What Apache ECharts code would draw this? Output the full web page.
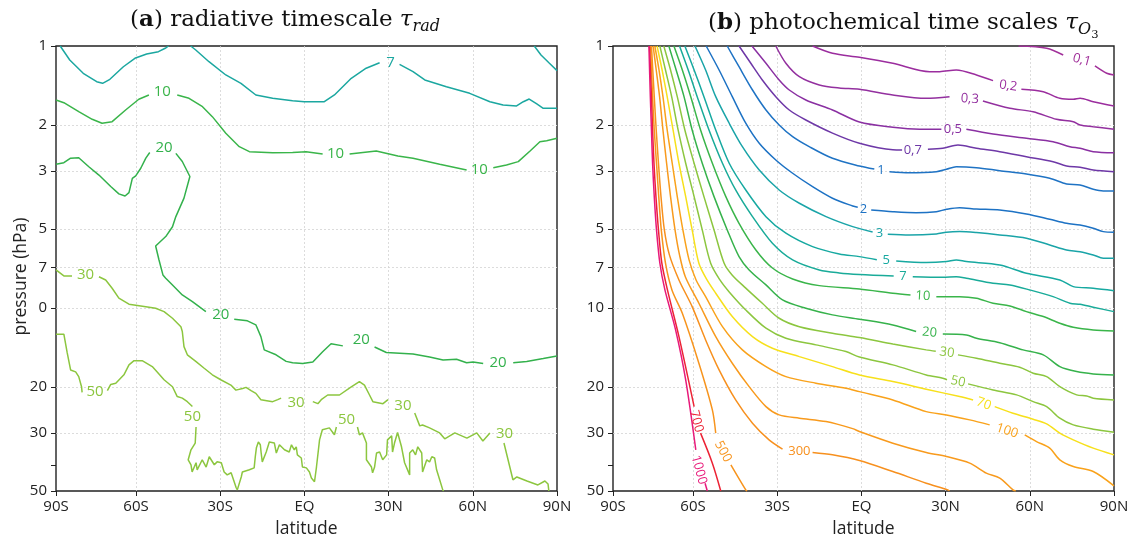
<!DOCTYPE html>
<html><head><meta charset="utf-8">
<script src="https://cdn.jsdelivr.net/npm/echarts@6/dist/echarts.min.js"></script>
<style>html,body{margin:0;padding:0;background:#fff}#c{width:1132px;height:539px}</style>
</head><body><div id="c"></div>
<script>
// ---------- axes ----------
const latTicks = [-88.5, -60, -30, 0, 30, 60, 90];
const latLabels = ['90S', '60S', '30S', 'EQ', '30N', '60N', '90N'];
const latGrid = [-60, -30, 0, 30, 60];
const pTicks = [1, 2, 3, 5, 7, 10, 20, 30, 50];
const pLabelsA = ['1', '2', '3', '5', '7', '0', '20', '30', '50'];
const pLabelsB = ['1', '2', '3', '5', '7', '10', '20', '30', '50'];
const pGrid = [2, 3, 5, 7, 10, 20, 30];
const pExtraTick = [40];
const pMin = 1, pMax = 50, latMin = -88.5, latMax = 90;

// ---------- panel (a): radiative timescale, contours [lat, hPa], null = label gap ----------
const a7 = [[-87,1.0],[-83.6,1.131],[-78.8,1.271],[-74.0,1.369],[-71.9,1.388],[-69.3,1.34],[-64.5,1.2],[-60.4,1.114],[-56.2,1.073],[-52.0,1.051],[-49.6,1.02],[-48.4,1.0],null,
 [-40.5,1.0],[-38.7,1.036],[-34.0,1.148],[-28.0,1.29],[-22.6,1.388],[-17.3,1.538],[-11.3,1.584],[-4.2,1.618],[0,1.632],[7.1,1.632],[10.7,1.538],[16.7,1.328],[22.0,1.216],[26.8,1.158],null,
 [33.9,1.175],[38.7,1.253],[42.9,1.348],[50.6,1.43],[58.9,1.516],[66.1,1.632],[70.8,1.68],[75.6,1.694],[78.0,1.632],[80.1,1.594],[82.8,1.665],[85.1,1.729],[90,1.729],null,
 [81.9,1.0],[84.3,1.082],[87.3,1.164],[90,1.242]];
const a10 = [[-88.5,1.607],[-85.7,1.646],[-80.4,1.782],[-75.6,1.905],[-72.1,1.972],[-68.5,1.945],[-63.7,1.755],[-59.0,1.597],[-55.4,1.538],null,
 [-45.3,1.538],[-41.1,1.584],[-36.3,1.705],[-32.8,1.861],[-28.0,2.154],[-23.2,2.423],[-19.6,2.532],[-11.3,2.555],[-4.2,2.548],[0.6,2.532],[6.5,2.584],null,
 [16.1,2.584],[25.6,2.516],[33.3,2.63],[38.7,2.684],[48.2,2.828],[57.8,2.974],null,
 [67.3,2.914],[72.0,2.845],[76.2,2.764],[80.4,2.516],[83.9,2.319],[86.3,2.298],[90,2.25]];
const a20 = [[-88.5,2.83],[-85.7,2.79],[-83.3,2.68],[-80.4,2.67],[-76.8,2.89],[-73.2,3.11],[-69.0,3.44],[-66.1,3.67],[-63.9,3.74],[-62.5,3.63],[-61.3,3.2],[-60.1,3.13],[-58.3,2.93],[-56.5,2.68],[-55.1,2.55],null,
 [-45.8,2.57],[-43.5,2.76],[-40.8,3.15],[-42.9,3.81],[-45.8,4.48],[-47.0,4.9],[-49.4,5.34],[-53.0,5.8],[-51.8,6.56],[-50.4,7.48],[-49.4,7.7],[-47.0,8.17],[-43.5,8.92],[-39.9,9.46],[-35.1,10.33],null,
 [-25.0,11.04],[-20.3,11.2],[-17.3,11.6],[-15.5,12.87],[-14.3,14.46],[-10.1,15.1],[-6.5,16.0],[-4.2,16.2],[-0.6,16.3],[3.0,16.1],[6.5,14.7],[9.5,13.7],[13.7,13.96],null,
 [25.0,14.1],[29.2,14.8],[38.7,15.0],[44.6,15.4],[49.4,15.8],[54.2,15.7],[57.8,16.2],[60.1,16.1],[63.7,16.3],null,
 [74.4,16.2],[79.2,16.0],[85.1,15.6],[90,15.25]];
const a30 = [[-88.5,7.16],[-85.7,7.55],[-82.8,7.55],null,
 [-73.2,7.6],[-70.8,7.82],[-68.5,8.41],[-66.1,9.18],[-62.5,9.68],[-56.5,9.89],[-53.0,10.03],[-50.0,10.33],[-47.0,10.95],[-44.0,11.8],[-43.5,12.3],[-42.9,14.05],[-41.7,15.1],[-38.7,16.0],[-35.7,17.0],[-32.8,18.0],[-29.8,18.8],[-26.2,19.7],[-24.4,20.6],[-22.0,20.3],[-20.8,20.1],[-19.0,20.7],[-17.3,21.2],[-15.5,22.4],[-11.3,22.8],[-9.5,22.4],[-8.3,22.1],null,
 [3.0,22.8],[4.8,23.2],[6.0,22.4],[8.3,21.5],[12.5,21.5],[16.7,20.0],[19.6,19.1],[21.4,19.7],[23.2,21.5],[24.4,22.8],[28.0,23.2],[29.8,22.4],null,
 [39.3,25.2],[41.1,28.2],[42.1,28.0],[44.6,28.7],[48.2,30.0],[50.0,31.6],[53.6,30.0],[57.9,31.4],[61.4,30.0],[63.6,32.2],[66.1,30.0],null,
 [71.1,32.8],[74.3,45.3],[75.7,44.2],[79.3,45.8],[83.2,47.4],[85.7,45.8],[86.8,47],[87.1,50]];
const a50 = [[-88.5,12.6],[-85.7,12.6],[-84.5,14.85],[-83.3,17.25],[-81.5,17.55],[-80.4,18.3],[-79.4,20.0],[-79.2,21.0],null,
 [-70.2,20.7],[-69.0,19.6],[-67.2,19.4],[-64.3,18.0],[-62.5,16.5],[-60.7,15.9],[-57.8,15.9],[-54.2,16.75],[-50.0,18.8],[-47.0,20.0],[-45.3,21.8],[-43.5,22.1],[-41.7,22.8],[-39.9,23.8],null,
 [-38.6,28.5],[-38.9,32.8],[-40.4,34.8],[-41.4,38.0],[-40.4,39.7],[-40.0,42.3],[-38.6,39.0],[-38.2,41.5],[-36.4,38.0],[-35.0,40.5],[-33.9,37.0],[-33.2,36.4],[-32.1,39.7],[-31.1,38.7],[-29.6,39.0],[-28.6,42.3],[-27.5,43.4],[-26.1,42.6],[-24.3,48.6],[-23.9,49.5],[-22.5,44.2],[-22.1,42.3],[-19.6,41.5],[-17.9,40.8],[-17.5,37.0],[-17.1,34.2],[-16.4,32.5],[-15.7,33.3],[-15.4,35.8],[-15.0,38.7],[-13.6,35.5],[-12.5,32.5],[-10.7,32.8],[-10.0,35.8],[-8.9,33.3],[-7.1,34.8],[-5.4,35.5],[-4.6,33.3],[-3.6,34.8],[-2.9,33.9],[-2.5,36.4],[-1.1,37.4],[-0.7,40.5],[0.7,40.8],[1.8,42.3],[2.5,44.6],[3.6,46.1],[4.3,40.5],[5.4,31.9],[6.4,29.2],[8.9,28.7],[10.7,30.5],[11.4,28.5],null,
 [18.9,28.5],[19.6,30.5],[20.7,30.0],[22.1,32.8],[22.1,38.0],[23.9,40.5],[24.3,42.6],[25.0,40.5],[25.7,35.8],[26.8,35.5],[27.9,38.0],[29.3,36.4],[29.6,31.9],[31.1,30.8],[31.4,35.5],[32.1,32.8],[33.2,29.9],[34.6,33.9],[35.7,39.0],[37.5,43.4],[37.5,35.8],[38.6,34.8],[39.6,36.4],[40.4,33.9],[41.8,35.8],[42.1,42.3],[43.6,38.0],[44.6,38.7],[45.4,37.0],[46.4,37.4],[47.1,41.5],[48.2,45.3],[49.3,49.5],[49.6,50]];
const levelsA = [7, 10, 20, 30, 50];
const colorsA = ['#1ba7a0', '#3ab54a', '#33b14c', '#8cc63f', '#8cc63f'];
const linesA = [a7, a10, a20, a30, a50];
// labels: [text, lat, hPa, level]
const labelsA = [['7',30.7,1.158,7],['10',-50.6,1.494,10],['10',11.1,2.584,10],['10',62.3,2.974,10],
 ['20',-50.0,2.44,20],['20',-29.8,10.6,20],['20',20.3,13.25,20],['20',69.0,16.2,20],
 ['30',-78.0,7.5,30],['30',-3.0,23.1,30],['30',35.1,23.6,30],['30',71.3,30.3,30],
 ['50',-74.6,20.9,50],['50',-39.9,26.0,50],['50',15.0,26.7,50]];

// ---------- panel (b): photochemical time scales ----------
const b01 = [[56,1.0],[66.0,1.02],[71.9,1.082],null,[83.2,1.192],[87.4,1.271],[90,1.29]];
const b02 = [[-17.4,1.0],[-10.3,1.066],[-0.7,1.104],[11.2,1.164],[24.3,1.253],[27.9,1.253],[33.8,1.235],[41.0,1.29],[46.9,1.356],null,[57.0,1.463],[64.8,1.494],[70.7,1.584],[75.5,1.598],[77.9,1.584],[82.6,1.632],[90,1.694]];
const b03 = [[-30.5,1.0],[-26.9,1.164],[-22.1,1.31],[-15.0,1.409],[-7.9,1.447],[-0.7,1.463],[11.2,1.538],[23.1,1.584],[31.4,1.561],null,[43.3,1.621],[52.9,1.729],[61.2,1.782],[69.5,1.905],[75.5,1.945],[77.9,2.002],[82.6,2.032],[90,2.079]];
const b05 = [[-39.0,1.0],[-34.0,1.164],[-29.3,1.348],[-25.7,1.472],[-19.8,1.607],[-10.3,1.755],[-0.7,1.95],[11.2,2.043],[20.7,2.079],[28.5,2.079],null,[37.4,2.079],[46.9,2.167],[58.8,2.25],[68.3,2.319],[74.3,2.423],[77.9,2.457],[82.6,2.532],[90,2.555]];
const b07 = [[-43.6,1.0],[-39.4,1.164],[-35.3,1.348],[-30.5,1.561],[-25.7,1.755],[-19.8,1.916],[-10.3,2.15],[-0.7,2.35],[11.2,2.49],[14.5,2.494],null,[23.7,2.479],[29.0,2.457],[34.4,2.387],[41.0,2.457],[49.3,2.532],[58.8,2.646],[68.3,2.764],[73.1,2.871],[77.9,2.904],[82.6,2.974],[90,3.018]];
const b1 = [[-47.8,1.0],[-43.6,1.2],[-38.8,1.472],[-34.0,1.755],[-29.3,2.002],[-24.5,2.219],[-18.6,2.423],[-10.3,2.684],[-0.7,2.871],[4.6,2.95],null,[10.0,3.018],[17.1,3.045],[26.7,3.018],[30.3,2.955],[33.8,2.889],[41.0,2.914],[49.3,2.992],[58.8,3.08],[67.1,3.199],[73.1,3.363],[77.9,3.393],[82.6,3.524],[86.2,3.577],[90,3.577]];
const b2 = [[-55.3,1.0],[-50.7,1.235],[-46.0,1.561],[-41.2,1.972],[-36.4,2.352],[-30.5,2.724],[-24.5,3.061],[-17.4,3.444],[-10.3,3.813],[-3.1,4.081],[-1.3,4.13],null,[3.5,4.227],[11.2,4.29],[19.5,4.328],[26.7,4.29],[30.3,4.202],[35.0,4.143],[41.0,4.191],[49.3,4.227],[58.8,4.377],[67.1,4.586],[73.1,4.751],[77.9,4.823],[82.6,4.963],[86.2,5.113],[90,5.14]];
const b3 = [[-59.3,1.0],[-55.5,1.235],[-51.9,1.561],[-47.1,1.972],[-42.4,2.423],[-36.4,2.974],[-29.3,3.546],[-22.1,3.985],[-12.6,4.482],[-3.1,4.895],[4.0,5.13],null,[9.4,5.232],[17.1,5.264],[26.7,5.218],[30.3,5.14],[35.0,5.113],[41.0,5.158],[49.3,5.264],[58.8,5.42],[67.1,5.749],[73.1,6.006],[77.9,6.097],[82.6,6.275],[86.2,6.46],[90,6.46]];
const b5 = [[-62.9,1.0],[-59.6,1.235],[-56.1,1.561],[-51.9,2.092],[-47.1,2.803],[-41.2,3.546],[-34.0,4.482],[-26.9,5.186],[-17.4,5.834],[-7.9,6.22],[-0.7,6.37],[5.5,6.55],null,[12.4,6.615],[23.1,6.715],[30.3,6.656],[33.8,6.557],[37.4,6.656],[49.3,6.855],[58.8,7.372],[70.7,7.819],[75.5,8.293],[82.6,8.41],[90,8.59]];
const b7 = [[-64.8,1.0],[-61.7,1.235],[-58.5,1.561],[-54.3,2.092],[-49.5,2.803],[-44.8,3.546],[-38.8,4.482],[-31.7,5.664],[-24.5,6.557],[-15.0,7.161],[-7.9,7.35],[-0.7,7.45],[11.5,7.55],null,[18.3,7.595],[29.0,7.635],[33.8,7.595],[37.4,7.702],[46.9,8.049],[52.9,8.17],[60.0,8.537],[68.3,9.056],[74.3,9.596],[77.9,9.681],[82.6,9.938],[90,10.33]];
const b10 = [[-66.8,1.0],[-63.8,1.235],[-60.8,1.561],[-57.3,2.092],[-53.1,2.803],[-48.3,3.759],[-43.6,4.751],[-37.6,6.006],[-31.7,7.04],[-24.5,7.75],[-15.0,8.22],[-0.7,8.463],[11.2,8.788],[17.5,8.93],null,[26.7,9.056],[35.0,9.056],[41.0,9.184],[46.9,9.596],[52.9,9.826],[58.8,10.33],[64.8,10.79],[70.7,11.44],[75.5,11.85],[82.6,12.13],[90,12.24]];
const b20 = [[-68.6,1.0],[-66.0,1.235],[-63.2,1.561],[-60.3,2.092],[-56.7,2.803],[-52.5,3.759],[-47.8,5.037],[-43.6,6.37],[-40.0,7.161],[-34.0,8.17],[-28.1,9.322],[-19.8,10.03],[-10.3,10.63],[-0.7,11.04],[11.2,11.61],[19.5,12.31],null,[29.0,12.57],[37.4,12.68],[41.0,13.05],[49.3,13.57],[57.6,14.46],[64.8,15.11],[70.7,16.75],[76.7,17.5],[82.6,17.86],[90,18.02]];
const b30 = [[-70.4,1.0],[-68.0,1.235],[-65.6,1.561],[-62.9,2.092],[-59.6,2.803],[-56.1,3.759],[-52.5,5.037],[-48.9,6.751],[-46.0,7.5],[-41.2,8.4],[-35.3,9.596],[-29.3,10.95],[-22.1,11.79],[-10.3,12.49],[-0.7,12.98],[11.2,13.72],[23.1,14.46],[26.5,14.65],null,[34.4,15.11],[41.0,15.56],[49.3,16.26],[56.4,16.84],[61.2,17.75],[66.0,18.29],[70.7,19.97],[76.7,21.48],[80.3,21.67],[82.6,22.12],[90,22.45]];
const b50 = [[-71.8,1.0],[-69.8,1.235],[-67.6,1.561],[-65.3,2.092],[-62.6,2.803],[-59.6,3.759],[-56.7,5.037],[-53.7,6.751],[-50.4,7.82],[-47.1,8.69],[-41.2,10.18],[-34.0,11.95],[-26.9,13.05],[-16.2,13.84],[-5.5,14.68],[-0.7,15.4],[11.2,16.5],[23.1,18.02],[29.0,18.55],[30.5,18.8],null,[38.0,19.5],[46.9,20.56],[55.3,21.48],[61.2,22.79],[66.0,23.81],[70.7,26.36],[75.5,27.96],[82.6,29.04],[90,29.81]];
const b70 = [[-72.8,1.0],[-71.0,1.235],[-69.2,1.561],[-67.1,2.092],[-65.0,2.803],[-62.6,3.759],[-60.3,5.037],[-57.9,6.751],[-55.0,7.82],[-51.9,8.788],[-46.0,10.79],[-38.8,12.87],[-31.7,14.25],[-22.1,15.34],[-10.3,16.75],[-0.7,18.02],[11.2,19.11],[23.1,20.43],[35.0,21.8],[39.8,22.45],null,[47.5,23.81],[54.0,25.23],[61.2,26.6],[66.0,27.71],[70.7,30.07],[75.5,31.9],[82.6,34.31],[90,36.39]];
const b100 = [[-73.6,1.0],[-72.1,1.235],[-70.7,1.561],[-69.2,2.092],[-67.4,2.803],[-65.6,3.759],[-63.6,5.037],[-61.4,6.557],[-58.9,7.819],[-55.5,9.056],[-49.5,11.79],[-42.4,14.46],[-34.0,16.75],[-26.9,18.29],[-16.2,19.38],[-5.5,20.25],[-0.7,20.87],[11.2,22.45],[23.1,24.88],[30.3,25.61],[38.6,26.76],[45.7,27.96],null,[58.2,30.52],[62.4,32.38],[67.1,34.31],[70.7,38.03],[75.5,40.33],[82.6,42.14],[90,47.8]];
const b200 = [[-74.2,1.0],[-73.1,1.235],[-71.9,1.561],[-70.7,2.092],[-69.4,2.803],[-68.0,3.759],[-66.4,5.037],[-64.8,6.275],[-62.7,7.616],[-57.9,9.596],[-51.9,12.87],[-46.0,16.26],[-40.0,19.97],[-34.0,23.81],[-29.3,25.61],[-22.1,26.36],[-12.6,27.16],[-3.1,28.9],[-0.7,29.65],[11.2,32.85],[23.1,35.66],[30.3,36.94],[38.6,39.14],[44.5,42.75],[49.3,44.67],[54.0,49.5],[55.0,50]];
const b300 = [[-74.8,1.0],[-73.8,1.561],[-73.1,2.092],[-72.3,2.803],[-71.4,3.759],[-70.2,5.037],[-68.4,6.275],[-65.0,7.819],[-60.3,9.886],[-55.5,13.25],[-50.7,17.24],[-44.8,22.45],[-38.8,27.55],[-32.9,31.9],[-28.1,34.61],null,[-17.4,35.66],[-10.3,36.39],[-0.7,38.26],[11.2,42.14],[23.1,46.68],[30.8,49.5],[31.4,50]];
const b500 = [[-75.1,1.0],[-74.4,1.561],[-73.8,2.092],[-73.0,2.803],[-72.2,3.759],[-71.3,5.037],[-69.8,6.751],[-67.5,8.537],[-63.8,10.48],[-57.9,16.26],[-53.1,24.51],[-51.9,30.07],null,[-46.5,39.73],[-41.2,49.5],[-40.7,50]];
const b700 = [[-75.5,1.0],[-74.8,1.561],[-74.4,2.092],[-73.9,2.803],[-73.2,3.759],[-72.3,5.037],[-71.1,6.751],[-69.1,8.537],[-65.0,12.87],[-59.6,23.81],null,[-57.3,30.07],[-53.1,39.14],[-50.1,50]];
const b1000 = [[-75.7,1.0],[-75.2,1.561],[-74.8,2.092],[-74.4,2.803],[-73.8,3.759],[-73.0,5.037],[-71.8,6.751],[-70.0,8.537],[-66.2,12.13],[-62.6,18.83],[-59.0,34.83],null,[-55.7,46.68],[-54.9,50]];
const levelsB = [0.1, 0.2, 0.3, 0.5, 0.7, 1, 2, 3, 5, 7, 10, 20, 30, 50, 70, 100, 200, 300, 500, 700, 1000];
const colorsB = ['#a1309a', '#9b2d9e', '#93309f', '#8a30a2', '#6e38a7', '#1f73c4', '#1d72c4', '#1aa4a8', '#17a9a1', '#19ab99',
                 '#3ab54a', '#36b24b', '#8cc63f', '#8cc63f', '#f7e01b', '#f9a21b', '#f89a1d', '#f7901e', '#f7941d', '#ec2335', '#e8197a'];
const linesB = [b01, b02, b03, b05, b07, b1, b2, b3, b5, b7, b10, b20, b30, b50, b70, b100, b200, b300, b500, b700, b1000];
// labels: [text, lat, hPa, level, rotate]
const labelsB = [['0,1',78.5,1.131,0.1,-15],['0,2',52.3,1.418,0.2,-8],['0,3',38.6,1.594,0.3,-4],['0,5',32.6,2.074,0.5,0],
 ['0,7',18.3,2.494,0.7,0],['1',7.0,2.974,1,0],['2',0.7,4.191,2,0],['3',6.4,5.186,3,0],['5',8.8,6.598,5,0],['7',14.8,7.549,7,0],
 ['10',21.9,9.0,10,-3],['20',24.3,12.42,20,-5],['30',30.5,14.81,30,-8],['50',34.4,19.11,50,-12],['70',43.6,23.25,70,-20],
 ['100',51.9,29.48,100,-18],['300',-22.1,35.35,300,0],['500',-49.3,35.35,500,-62],['700',-58.8,27.1,700,-75],['1000',-57.9,41.5,1000,-75]];

// ---------- build ----------
const L = Math.log10;
function segments(arr) {
  const out = []; let cur = [];
  arr.forEach(pt => { if (pt === null) { if (cur.length) out.push(cur); cur = []; } else cur.push([pt[0], L(pt[1])]); });
  if (cur.length) out.push(cur);
  return out;
}
const series = [];
function addLines(lines, colors, gi, smooth) {
  lines.forEach((arr, i) => {
    segments(arr).forEach(seg => series.push({
      type: 'line', xAxisIndex: gi * 2, yAxisIndex: gi * 3, data: seg, symbol: 'none', showSymbol: false,
      smooth: smooth, lineStyle: { color: colors[i], width: 1.5 }, silent: true, z: 3
    }));
  });
}
addLines(linesA, colorsA, 0, false);
addLines(linesB, colorsB, 1, 0.3);
function addLabels(labels, levels, colors, gi, fs) {
  series.push({
    type: 'scatter', xAxisIndex: gi * 2, yAxisIndex: gi * 3, symbol: 'circle', symbolSize: 1,
    itemStyle: { color: 'rgba(255,255,255,0)' }, silent: true, z: 4,
    data: labels.map(l => ({
      value: [l[1], L(l[2])],
      label: { show: true, position: 'inside', formatter: l[0], color: colors[levels.indexOf(l[3])], rotate: l[4] || 0,
               fontSize: fs, fontFamily: 'Open Sans', opacity: 1 }
    }))
  });
}
addLabels(labelsA, levelsA, colorsA, 0, 15);
addLabels(labelsB, levelsB, colorsB, 1, 13);

const gridStyle = { show: true, borderColor: '#222', borderWidth: 1.4, top: 46, height: 445, width: 501, outerBoundsMode: 'none', containLabel: false };
const txt = { fontFamily: 'Open Sans', fontSize: 15, color: '#222' };
const nameTxt = { fontFamily: 'Open Sans', fontSize: 17.5, color: '#222' };
const gridLine = { show: true, lineStyle: { color: '#d4d4d4', type: [2, 2], width: 0.8 } };
function xAxis(gi) {
  return {
    gridIndex: gi, type: 'value', min: latMin, max: latMax, position: 'bottom',
    axisLine: { show: false, onZero: false },
    axisTick: { show: true, customValues: latTicks, length: 5, lineStyle: { color: '#222', width: 1 } },
    axisLabel: Object.assign({ customValues: latTicks, margin: 8,
      formatter: v => { const i = latTicks.findIndex(t => Math.abs(t - v) < 1e-6); return i >= 0 ? latLabels[i] : ''; } }, txt),
    splitLine: { show: false },
    name: 'latitude', nameLocation: 'middle', nameGap: 29, nameTextStyle: nameTxt, nameMoveOverlap: false
  };
}
function xAxisGrid(gi) {
  return {
    gridIndex: gi, type: 'value', min: latMin, max: latMax, position: 'bottom',
    axisLine: { show: false, onZero: false },
    axisTick: { show: false, customValues: latGrid }, axisLabel: { show: false }, splitLine: gridLine
  };
}
function yAxis(gi, labels, showName) {
  const vals = pTicks.map(L);
  return {
    gridIndex: gi, type: 'value', inverse: true, min: L(pMin), max: L(pMax), position: 'left',
    axisLine: { show: false, onZero: false },
    axisTick: { show: true, customValues: vals, length: 5, lineStyle: { color: '#222', width: 1 } },
    axisLabel: Object.assign({ customValues: vals, margin: 9,
      formatter: v => { const i = vals.findIndex(t => Math.abs(t - v) < 1e-6); return i >= 0 ? labels[i] : ''; } }, txt),
    splitLine: { show: false },
    name: showName ? 'pressure (hPa)' : '', nameLocation: 'middle', nameGap: 26,
    nameTextStyle: Object.assign({ padding: [0, 16, 0, 0] }, nameTxt), nameMoveOverlap: false
  };
}
function yAxisExtra(gi) {
  return {
    gridIndex: gi, type: 'value', inverse: true, min: L(pMin), max: L(pMax), position: 'left',
    axisLine: { show: false, onZero: false },
    axisTick: { show: true, customValues: pExtraTick.map(L), length: 5, lineStyle: { color: '#222', width: 1 } },
    axisLabel: { show: false }, splitLine: { show: false }
  };
}
function yAxisGrid(gi) {
  return {
    gridIndex: gi, type: 'value', inverse: true, min: L(pMin), max: L(pMax), position: 'left',
    axisLine: { show: false, onZero: false },
    axisTick: { show: false, customValues: pGrid.map(L) }, axisLabel: { show: false }, splitLine: gridLine
  };
}
const serif = 'DejaVu Serif';
const richT = {
  b: { fontFamily: serif, fontSize: 23, fontWeight: 'bold', color: '#111' },
  t: { fontFamily: serif, fontSize: 23, fontStyle: 'italic', color: '#111' },
  s: { fontFamily: serif, fontSize: 16, fontStyle: 'italic', color: '#111', padding: [13, 0, 0, 0] },
  ss: { fontFamily: serif, fontSize: 11.5, color: '#111', padding: [23, 0, 0, 0] }
};
const option = {
  animation: false,
  backgroundColor: '#fff',
  title: [
    { text: '({b|a}) radiative timescale {t|τ}{s|rad}', left: 130, top: 6, padding: 0,
      textStyle: { fontFamily: serif, fontSize: 23, fontWeight: 'normal', color: '#111', rich: richT } },
    { text: '({b|b}) photochemical time scales {t|τ}{s|O}{ss|3}', left: 708, top: 6, padding: 0,
      textStyle: { fontFamily: serif, fontSize: 23, fontWeight: 'normal', color: '#111', rich: richT } }
  ],
  grid: [Object.assign({ left: 56 }, gridStyle), Object.assign({ left: 613 }, gridStyle)],
  xAxis: [xAxis(0), xAxisGrid(0), xAxis(1), xAxisGrid(1)],
  yAxis: [yAxis(0, pLabelsA, true), yAxisExtra(0), yAxisGrid(0), yAxis(1, pLabelsB, false), yAxisExtra(1), yAxisGrid(1)],
  series: series
};
const chart = echarts.init(document.getElementById('c'), null, { renderer: 'canvas' });
chart.setOption(option);
</script>
</body></html>
